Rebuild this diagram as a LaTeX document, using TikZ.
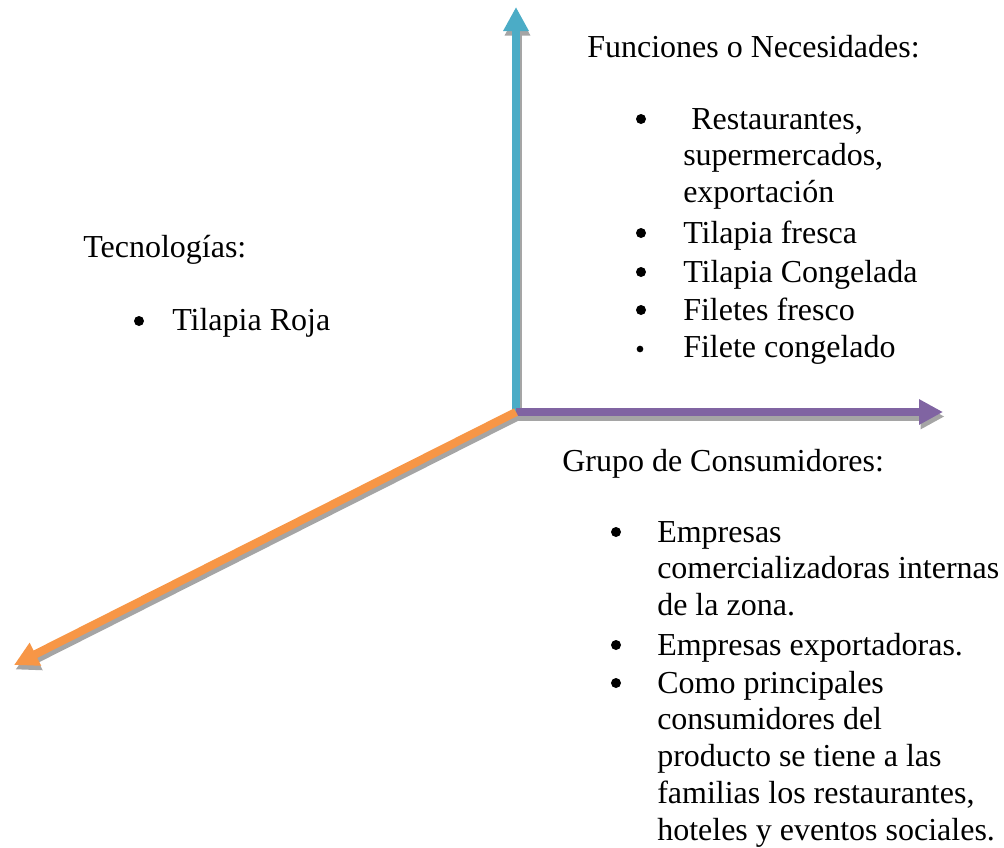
\documentclass[tikz,border=0pt]{standalone}
\usepackage{fontspec}
\setmainfont{Liberation Serif}
\usetikzlibrary{arrows.meta}

\definecolor{ejeazul}{HTML}{4BACC6}
\definecolor{ejemorado}{HTML}{8064A2}
\definecolor{ejenaranja}{HTML}{F79646}
\definecolor{sombragris}{HTML}{A5A5A5}

\begin{document}
\begin{tikzpicture}[x=0.75pt,y=-0.75pt,>={Triangle[length=18pt,width=18pt]},
    eje/.style={line width=6.2pt,->},
    sombra/.style={eje,draw=sombragris},
    titulo/.style={anchor=base west,inner sep=0pt,font=\fontsize{24}{27.6}\selectfont},
    punto/.style={circle,fill=black,inner sep=0pt,minimum size=7.5pt},
    item/.style={titulo,text width=270pt,align=flush left}]

    \useasboundingbox (0,0) rectangle (1004,847);

    \coordinate (origen) at (516,412);
    \coordinate (funciones) at (516,7);
    \coordinate (consumidores) at (943,412);
    \coordinate (tecnologias) at (14,665);

    % sombras de los ejes
    \draw[sombra] ([shift={(1.5,4.5)}]origen) -- ([shift={(1.5,4.5)}]funciones);
    \draw[sombra] ([shift={(1.5,4.5)}]origen) -- ([shift={(1.5,4.5)}]consumidores);
    \draw[sombra] ([shift={(1.5,4.5)}]origen) -- ([shift={(1.5,4.5)}]tecnologias);

    % ejes
    \draw[eje,draw=ejeazul] (origen) -- (funciones);
    \draw[eje,draw=ejemorado] (origen) -- (consumidores);
    \draw[eje,draw=ejenaranja] (origen) -- (tecnologias);

    % funciones o necesidades
    \node[titulo] (tfunc) at (587,57) {Funciones o Necesidades:};
    \node[punto] (pf1) at (641,119) {};
    \node[item] (if1) at (683,129) {~Restaurantes,\\supermercados,\\exportación};
    \node[punto] (pf2) at (641,233) {};
    \node[item] (if2) at (683,243) {Tilapia fresca};
    \node[punto] (pf3) at (641,272) {};
    \node[item] (if3) at (683,282) {Tilapia Congelada};
    \node[punto] (pf4) at (641,310) {};
    \node[item] (if4) at (683,320) {Filetes fresco};
    \node[punto,minimum size=5pt] (pf5) at (640,349) {};
    \node[item] (if5) at (683,357) {Filete congelado};

    % tecnologias
    \node[titulo] (ttec) at (83,257) {Tecnologías:};
    \node[punto] (pt1) at (139,321) {};
    \node[item] (it1) at (172,330) {Tilapia Roja};

    % grupo de consumidores
    \node[titulo] (tcons) at (562,471) {Grupo de Consumidores:};
    \node[punto] (pc1) at (616,532) {};
    \node[item] (ic1) at (657,542) {Empresas\\comercializadoras internas\\de la zona.};
    \node[punto] (pc2) at (616,645) {};
    \node[item] (ic2) at (657,655) {Empresas exportadoras.};
    \node[punto] (pc3) at (616,683) {};
    \node[item] (ic3) at (657,693) {Como principales\\consumidores del\\producto se tiene a las\\familias los restaurantes,\\hoteles y eventos sociales.};

\end{tikzpicture}
\end{document}
